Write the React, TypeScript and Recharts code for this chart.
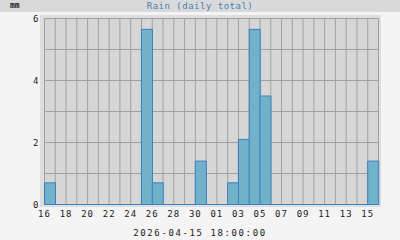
import React from "react";
import {
  BarChart,
  Bar,
  XAxis,
  YAxis,
  CartesianGrid,
  ReferenceLine,
} from "recharts";

// days: 16..31 March, 01..15 April
const dayLabels = [
  "16", "17", "18", "19", "20", "21", "22", "23", "24", "25", "26", "27", "28", "29", "30", "31",
  "01", "02", "03", "04", "05", "06", "07", "08", "09", "10", "11", "12", "13", "14", "15",
];
const rainMm = [
  0.7, 0, 0, 0, 0, 0, 0, 0, 0, 5.65, 0.7, 0, 0, 0, 1.4, 0,
  0, 0.7, 2.1, 5.65, 3.5, 0, 0, 0, 0, 0, 0, 0, 0, 0, 1.4,
];
const yTicks = [0, 1, 2, 3, 4, 5, 6];
const xTicks = Array.from({ length: dayLabels.length + 1 }, (_, i) => i);

const mono = "DejaVu Sans Mono, monospace";

export default function App() {
  const data = dayLabels.map((d, i) => ({ day: d, idx: i, rain: rainMm[i] }));
  const tick = { fontSize: 9, fill: "#1a1a1a", fontFamily: mono, letterSpacing: 1 };

  return (
    <div
      style={{
        position: "absolute",
        left: 0,
        top: 0,
        width: 400,
        height: 240,
        background: "#f4f4f4",
        overflow: "hidden",
      }}
    >
      {/* header strip */}
      <div
        style={{
          position: "absolute",
          left: 0,
          top: 0,
          width: 400,
          height: 12,
          background: "#d9d9d9",
        }}
      />
      <div
        style={{
          position: "absolute",
          left: 10,
          top: 0,
          height: 12,
          lineHeight: "12px",
          fontSize: 8,
          fontFamily: mono,
          color: "#222",
          fontWeight: "bold",
        }}
      >
        mm
      </div>
      <div
        style={{
          position: "absolute",
          left: 0,
          top: 0,
          width: 400,
          height: 12,
          lineHeight: "12px",
          textAlign: "center",
          fontSize: 9,
          letterSpacing: 0.5,
          fontFamily: mono,
          color: "#4682b4",
        }}
      >
        Rain (daily total)
      </div>
      {/* panel behind plot */}
      <div
        style={{
          position: "absolute",
          left: 40,
          top: 15,
          width: 341,
          height: 192,
          background: "#dedede",
        }}
      />
      <div style={{ position: "absolute", left: 0, top: 0 }}>
        <BarChart
          width={400}
          height={240}
          data={data}
          barCategoryGap={0}
          barGap={0}
          margin={{ top: 18.5, right: 21.5, bottom: 5.5, left: 4.5 }}
        >
          <CartesianGrid
            xAxisId="t"
            fill="#d6d6d6"
            fillOpacity={1}
            stroke="#a0a0a0"
            strokeWidth={1}
          />
          <XAxis xAxisId={0} dataKey="day" hide height={0} />
          <XAxis
            xAxisId="t"
            type="number"
            dataKey="idx"
            domain={[0, dayLabels.length]}
            allowDataOverflow
            ticks={xTicks}
            interval={0}
            tickFormatter={(v: number) =>
              v % 2 === 0 && v < dayLabels.length ? dayLabels[v] : ""
            }
            axisLine={false}
            tickLine={false}
            tickSize={0}
            tickMargin={6}
            height={30}
            tick={tick}
          />
          <YAxis
            domain={[0, 6]}
            ticks={yTicks}
            interval={0}
            tickFormatter={(v: number) => (v % 2 === 0 ? String(v) : "")}
            axisLine={false}
            tickLine={false}
            tickSize={0}
            tickMargin={5}
            width={40}
            tick={tick}
          />
          <Bar
            xAxisId={0}
            dataKey="rain"
            fill="#72b2c8"
            stroke="#3b7fc2"
            strokeWidth={1}
            isAnimationActive={false}
          />
          <ReferenceLine xAxisId={0} y={0} stroke="#3b7fc2" strokeWidth={1} />
        </BarChart>
      </div>
      <div
        style={{
          position: "absolute",
          left: 0,
          top: 227,
          width: 400,
          height: 12,
          lineHeight: "12px",
          textAlign: "center",
          fontSize: 9,
          letterSpacing: 1.6,
          fontFamily: mono,
          color: "#1a1a1a",
        }}
      >
        2026-04-15 18:00:00
      </div>
    </div>
  );
}
